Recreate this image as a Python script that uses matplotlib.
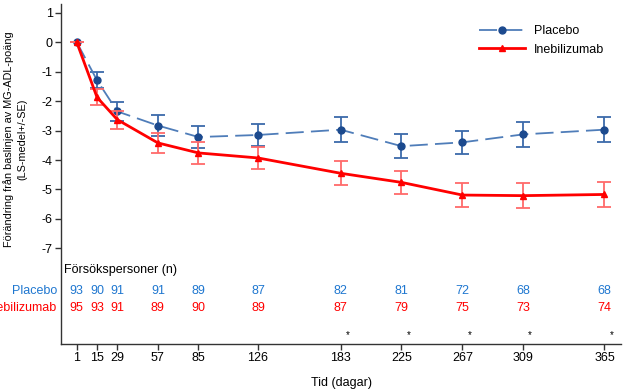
import matplotlib
matplotlib.use("Agg")
import matplotlib.pyplot as plt
import matplotlib.transforms as mtransforms
from matplotlib.lines import Line2D

plt.rcParams["font.family"] = ["Liberation Sans Narrow", "Liberation Sans", "DejaVu Sans"]
plt.rcParams["axes.unicode_minus"] = False

# --- data ---
days = [1, 15, 29, 57, 85, 126, 183, 225, 267, 309, 365]
placebo_mean = [0, -1.29, -2.35, -2.83, -3.22, -3.15, -2.97, -3.53, -3.40, -3.13, -2.97]
placebo_se = [0, 0.27, 0.31, 0.35, 0.36, 0.38, 0.42, 0.40, 0.40, 0.43, 0.43]
ineb_mean = [0, -1.87, -2.63, -3.42, -3.76, -3.93, -4.45, -4.76, -5.19, -5.21, -5.17]
ineb_se = [0, 0.27, 0.31, 0.35, 0.37, 0.37, 0.41, 0.40, 0.40, 0.43, 0.43]
placebo_n = [93, 90, 91, 91, 89, 87, 82, 81, 72, 68, 68]
ineb_n = [95, 93, 91, 89, 90, 89, 87, 79, 75, 73, 74]
star_days = [183, 225, 267, 309, 365]

fs = 9
fig = plt.figure(figsize=(6.23, 3.91), dpi=100)
ax = fig.add_axes([0.098, 0.120, 0.899, 0.870])

blue_line = "#4F7DB9"
blue_mark = "#1C4A8E"
red = "#FF0000"
placebo_ls = (0, (10, 4))

ax.errorbar(days, placebo_mean, yerr=placebo_se, color=blue_line, ecolor="#3C6AAA",
            elinewidth=1.3, capsize=5, capthick=1.3, linestyle=placebo_ls, linewidth=1.3,
            marker="o", markersize=5, markerfacecolor=blue_mark, markeredgecolor=blue_mark,
            zorder=2)
ax.errorbar(days, ineb_mean, yerr=ineb_se, color=red, ecolor="#FF6A6A",
            elinewidth=1.3, capsize=5, capthick=1.3, linewidth=2.0,
            marker="^", markersize=4, zorder=3)

ax.set_xlim(-9.8, 376.5)
ax.set_ylim(-10.25, 1.3)
ax.set_xticks(days)
ax.set_xticklabels([str(d) for d in days])
ax.set_yticks(range(-7, 2))
ax.tick_params(axis="both", labelsize=fs, length=4, width=1, colors="#333333", labelcolor="black")
ax.tick_params(axis="x", pad=2)
ax.tick_params(axis="y", pad=2)

for s in ["top", "right"]:
    ax.spines[s].set_visible(False)
for s in ["left", "bottom"]:
    ax.spines[s].set_color("#333333")
    ax.spines[s].set_linewidth(1.0)

ax.set_xlabel("Tid (dagar)", fontsize=fs, labelpad=9)
fig.text(15 / 623, 1 - 139 / 391, "Förändring från baslinjen av MG-ADL-poäng\n(LS-medel+/-SE)",
         rotation=90, ha="center", va="center", fontsize=7.8, linespacing=1.45)

handles = [
    Line2D([], [], color=blue_line, linestyle=placebo_ls, linewidth=1.3, marker="o",
           markersize=5, markerfacecolor=blue_mark, markeredgecolor=blue_mark),
    Line2D([], [], color=red, linewidth=2.0, marker="^", markersize=4),
]
ax.legend(handles, ["Placebo", "Inebilizumab"], loc="upper right", bbox_to_anchor=(0.99, 0.97),
          frameon=False, fontsize=fs, handlelength=3.7, labelspacing=0.5, handletextpad=0.7)

# subject counts under the curves
trans = mtransforms.blended_transform_factory(ax.transData, ax.transAxes)
ax.text(-8, 0.218, "Försökspersoner (n)", transform=trans, fontsize=fs, va="center", ha="left")
for d, n in zip(days, placebo_n):
    ax.text(d, 0.156, str(n), transform=trans, fontsize=fs, color="#1F77D0", ha="center", va="center")
for d, n in zip(days, ineb_n):
    ax.text(d, 0.106, str(n), transform=trans, fontsize=fs, color=red, ha="center", va="center")
fig.text(57 / 623, 1 - 291 / 391, "Placebo", fontsize=fs, color="#1F77D0", ha="right", va="center")
fig.text(57 / 623, 1 - 308 / 391, "Inebilizumab", fontsize=fs, color=red, ha="right", va="center")
for d in star_days:
    ax.annotate("*", xy=(d, 0.026), xycoords=trans, xytext=(5, 0), textcoords="offset points",
                fontsize=7, ha="center", va="center")

fig.savefig("out.png", dpi=100)
